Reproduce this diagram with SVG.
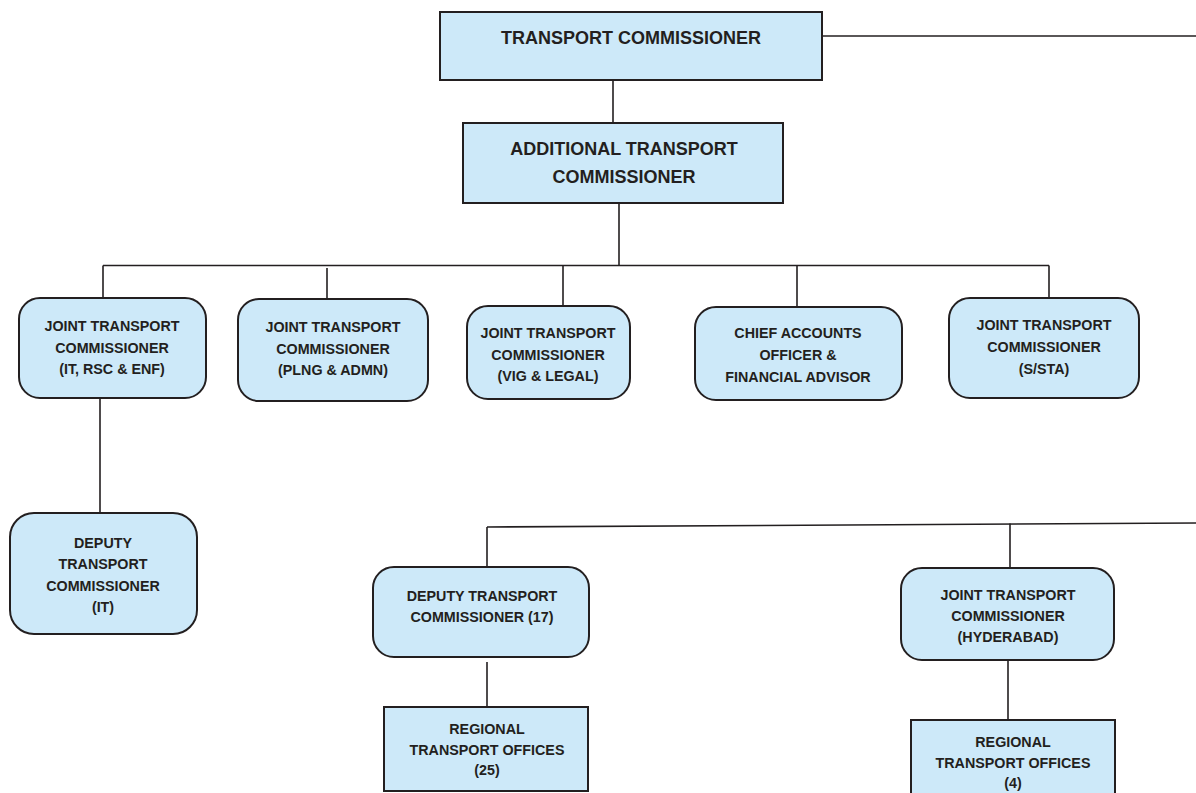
<svg xmlns="http://www.w3.org/2000/svg" width="1196" height="793" viewBox="0 0 1196 793">
<style>
.box{fill:#cde9f9;stroke:#231f20;stroke-width:2}
.ln{stroke:#231f20;stroke-width:1.6;fill:none}
text{font-family:"Liberation Sans",Arial,sans-serif;font-weight:bold;fill:#231f20;text-anchor:middle}
.big{font-size:18px}
.sm{font-size:14.3px}
</style>
<rect width="1196" height="793" fill="#ffffff"/>
<g id="connectors">
<line class="ln" x1="822" y1="36" x2="1196" y2="36"/>
<line class="ln" x1="613" y1="80" x2="613" y2="123"/>
<line class="ln" x1="619" y1="203" x2="619" y2="266"/>
<line class="ln" x1="103" y1="265.5" x2="1049" y2="265.5"/>
<line class="ln" x1="103" y1="265.5" x2="103" y2="299"/>
<line class="ln" x1="327" y1="268" x2="327" y2="299"/>
<line class="ln" x1="563" y1="265.5" x2="563" y2="306"/>
<line class="ln" x1="797" y1="265.5" x2="797" y2="307"/>
<line class="ln" x1="1049" y1="265.5" x2="1049" y2="298"/>
<line class="ln" x1="100" y1="398" x2="100" y2="513"/>
<line class="ln" x1="487" y1="527" x2="1196" y2="523"/>
<line class="ln" x1="487" y1="527" x2="487" y2="567"/>
<line class="ln" x1="1010" y1="523.5" x2="1010" y2="568"/>
<line class="ln" x1="487" y1="662" x2="487" y2="707"/>
<line class="ln" x1="1008" y1="660" x2="1008" y2="720"/>
</g>
<g id="tc">
<rect class="box" x="440" y="12" width="382" height="68"/>
<text class="big" x="631" y="43.5">TRANSPORT COMMISSIONER</text>
</g>
<g id="atc">
<rect class="box" x="463" y="123" width="320" height="80"/>
<text class="big" x="624" y="154.5">ADDITIONAL TRANSPORT</text>
<text class="big" x="624" y="182.5">COMMISSIONER</text>
</g>
<g id="jtc-it">
<rect class="box" x="19" y="298" width="187" height="100" rx="21"/>
<text class="sm" x="112" y="331">JOINT TRANSPORT</text>
<text class="sm" x="112" y="353">COMMISSIONER</text>
<text class="sm" x="112" y="374">(IT, RSC &amp; ENF)</text>
</g>
<g id="jtc-plng">
<rect class="box" x="238" y="299" width="190" height="102" rx="21"/>
<text class="sm" x="333" y="332">JOINT TRANSPORT</text>
<text class="sm" x="333" y="354">COMMISSIONER</text>
<text class="sm" x="333" y="375">(PLNG &amp; ADMN)</text>
</g>
<g id="jtc-vig">
<rect class="box" x="467" y="306" width="163" height="93" rx="21"/>
<text class="sm" x="548" y="338">JOINT TRANSPORT</text>
<text class="sm" x="548" y="360">COMMISSIONER</text>
<text class="sm" x="548" y="381">(VIG &amp; LEGAL)</text>
</g>
<g id="cao">
<rect class="box" x="695" y="307" width="207" height="93" rx="21"/>
<text class="sm" x="798" y="338">CHIEF ACCOUNTS</text>
<text class="sm" x="798" y="360">OFFICER &amp;</text>
<text class="sm" x="798" y="382">FINANCIAL ADVISOR</text>
</g>
<g id="jtc-sta">
<rect class="box" x="949" y="298" width="190" height="100" rx="21"/>
<text class="sm" x="1044" y="330">JOINT TRANSPORT</text>
<text class="sm" x="1044" y="352">COMMISSIONER</text>
<text class="sm" x="1044" y="374">(S/STA)</text>
</g>
<g id="dtc-it">
<rect class="box" x="10" y="513" width="187" height="121" rx="24"/>
<text class="sm" x="103" y="548">DEPUTY</text>
<text class="sm" x="103" y="569">TRANSPORT</text>
<text class="sm" x="103" y="591">COMMISSIONER</text>
<text class="sm" x="103" y="612">(IT)</text>
</g>
<g id="dtc-17">
<rect class="box" x="373" y="567" width="216" height="90" rx="21"/>
<text class="sm" x="482" y="601">DEPUTY TRANSPORT</text>
<text class="sm" x="482" y="622">COMMISSIONER (17)</text>
</g>
<g id="rto-25">
<rect class="box" x="384" y="707" width="204" height="84"/>
<text class="sm" x="487" y="734">REGIONAL</text>
<text class="sm" x="487" y="755">TRANSPORT OFFICES</text>
<text class="sm" x="487" y="775">(25)</text>
</g>
<g id="jtc-hyd">
<rect class="box" x="901" y="568" width="213" height="92" rx="21"/>
<text class="sm" x="1008" y="600">JOINT TRANSPORT</text>
<text class="sm" x="1008" y="621">COMMISSIONER</text>
<text class="sm" x="1008" y="642">(HYDERABAD)</text>
</g>
<g id="rto-4">
<rect class="box" x="911" y="720" width="204" height="90"/>
<text class="sm" x="1013" y="747">REGIONAL</text>
<text class="sm" x="1013" y="768">TRANSPORT OFFICES</text>
<text class="sm" x="1013" y="788">(4)</text>
</g>
</svg>
